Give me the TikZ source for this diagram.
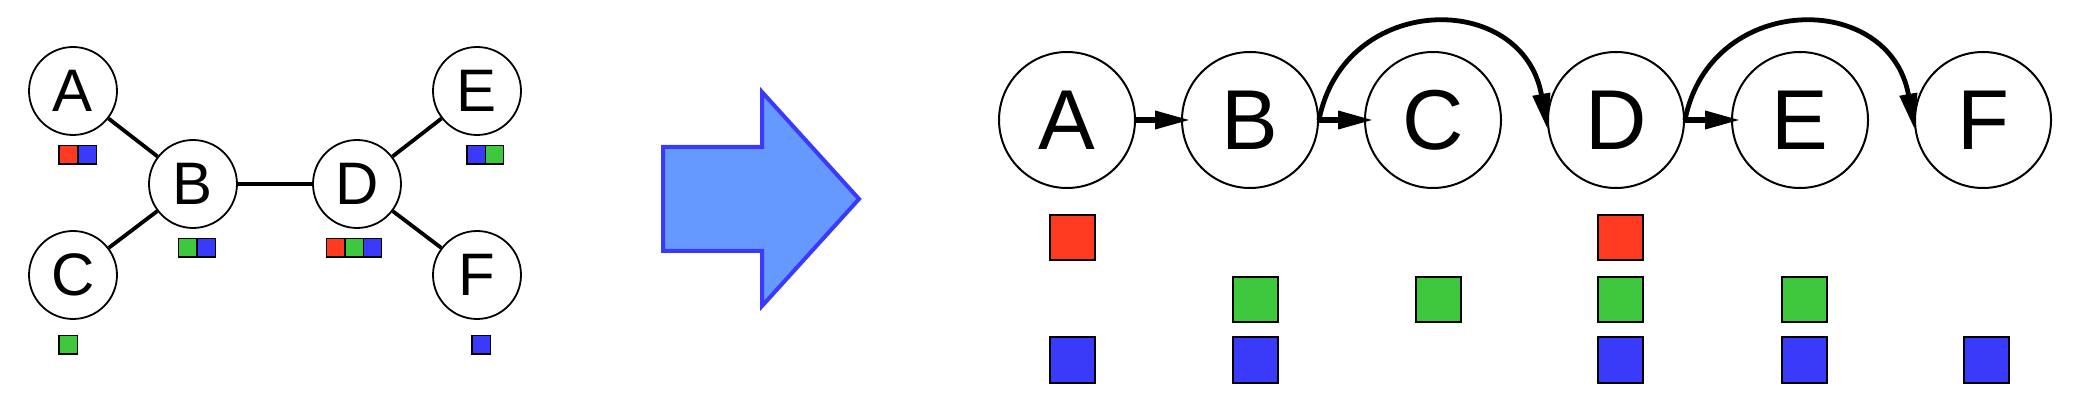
\documentclass[tikz,border=0pt]{standalone}
\usepackage{fontspec}
\setmainfont{Liberation Sans}
\usetikzlibrary{arrows.meta}

\definecolor{cellred}{RGB}{255,58,32}
\definecolor{cellgreen}{RGB}{62,200,62}
\definecolor{cellblue}{RGB}{58,58,250}
\definecolor{arrowfill}{RGB}{102,153,255}
\definecolor{arrowline}{RGB}{58,58,255}

\tikzset{
  small/.style={circle, draw, line width=0.9pt, minimum size=44pt, inner sep=0pt, font=\fontsize{30}{30}\selectfont},
  big/.style={circle, draw, line width=1pt, minimum size=68pt, inner sep=0pt, font=\fontsize{42.5}{42.5}\selectfont},
  tinycell/.style={draw, line width=0.7pt, minimum size=9.2pt, inner sep=0pt},
  bigcell/.style={draw, line width=1pt, minimum size=22.5pt, inner sep=0pt},
  link/.style={line width=1.9pt},
  hop/.style={line width=3.2pt, -{Triangle[length=18pt,width=8.5pt]}, shorten >=-5pt},
  jump/.style={line width=2.4pt, -{Triangle[length=18pt,width=8.5pt]}},
}

\begin{document}
\begin{tikzpicture}[x=0.5pt, y=-0.5pt]
\useasboundingbox (0,0) rectangle (2086,416);
% Tree
\node[small] (tA) at (73,91) {A};
\node[small] (tB) at (193,184) {B};
\node[small] (tC) at (73,275) {C};
\node[small] (tD) at (357,184) {D};
\node[small] (tE) at (477,91) {E};
\node[small] (tF) at (477,275) {F};
\draw[link] (tA) -- (tB);
\draw[link] (tC) -- (tB);
\draw[link] (tB) -- (tD);
\draw[link] (tD) -- (tE);
\draw[link] (tD) -- (tF);
% Tree labels
\node[tinycell, fill=cellred] (tA1) at (68,155) {};
\node[tinycell, fill=cellblue] (tA2) at (87.5,155) {};
\node[tinycell, fill=cellgreen] (tB1) at (187.5,248) {};
\node[tinycell, fill=cellblue] (tB2) at (206,248) {};
\node[tinycell, fill=cellgreen] (tC1) at (68,345) {};
\node[tinycell, fill=cellred] (tD1) at (335.5,248) {};
\node[tinycell, fill=cellgreen] (tD2) at (354,248) {};
\node[tinycell, fill=cellblue] (tD3) at (372.5,248) {};
\node[tinycell, fill=cellblue] (tE1) at (476,155) {};
\node[tinycell, fill=cellgreen] (tE2) at (494.5,155) {};
\node[tinycell, fill=cellblue] (tF1) at (481,345) {};
% Big arrow
\draw[arrowline, fill=arrowfill, line width=2pt, line join=miter]
  (663,147) -- (762,147) -- (762,92) -- (859,199) -- (762,306) -- (762,251) -- (663,251) -- cycle;
% Chain
\node[big] (cA) at (1067,120) {A};
\node[big] (cB) at (1250,120) {B};
\node[big] (cC) at (1433,120) {C};
\node[big] (cD) at (1616,120) {D};
\node[big] (cE) at (1800,120) {E};
\node[big] (cF) at (1983,120) {F};
\draw[hop] (cA) -- (cB);
\draw[hop] (cB) -- (cC);
\draw[hop] (cD) -- (cE);
\draw[jump] (cB.east) .. controls +(25,-128) and +(-25,-140) .. (cD.188);
\draw[jump] (cD.east) .. controls +(25,-128) and +(-25,-140) .. (cF.188);
% Chain labels
\node[bigcell, fill=cellred] (cA1) at (1072,238) {};
\node[bigcell, fill=cellblue] (cA3) at (1072,360) {};
\node[bigcell, fill=cellgreen] (cB2) at (1255,300) {};
\node[bigcell, fill=cellblue] (cB3) at (1255,360) {};
\node[bigcell, fill=cellgreen] (cC2) at (1438,300) {};
\node[bigcell, fill=cellred] (cD1) at (1620,238) {};
\node[bigcell, fill=cellgreen] (cD2) at (1620,300) {};
\node[bigcell, fill=cellblue] (cD3) at (1620,360) {};
\node[bigcell, fill=cellgreen] (cE2) at (1804,300) {};
\node[bigcell, fill=cellblue] (cE3) at (1804,360) {};
\node[bigcell, fill=cellblue] (cF3) at (1986,360) {};
\end{tikzpicture}
\end{document}
